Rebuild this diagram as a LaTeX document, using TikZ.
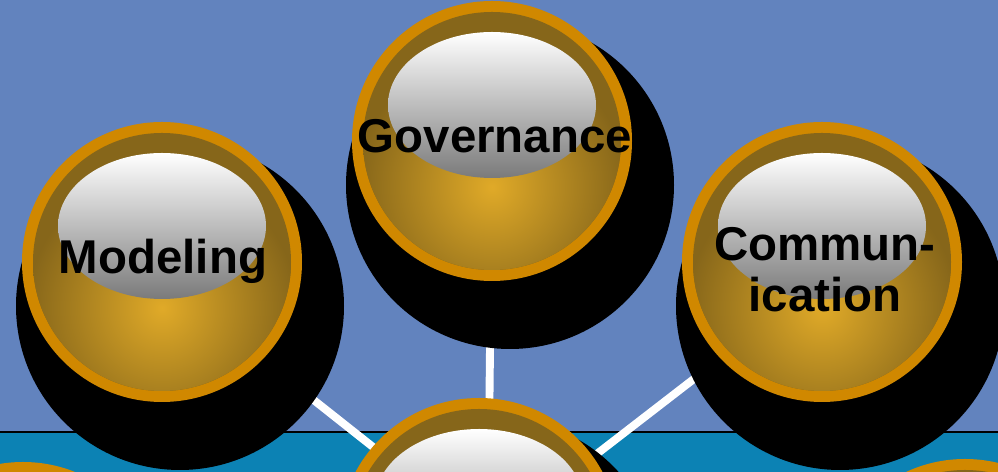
\documentclass[tikz,border=0pt]{standalone}
\usepackage{fontspec}
\setmainfont{Liberation Sans}
\usetikzlibrary{calc}

\definecolor{bgblue}{RGB}{98,131,190}
\definecolor{stripblue}{RGB}{12,130,180}
\definecolor{ringgold}{RGB}{208,136,0}
\definecolor{darkgold}{RGB}{134,102,26}
\definecolor{lightgold}{RGB}{224,170,40}

\tikzset{
  lbl/.style={anchor=base, inner sep=0pt, align=center, text=black,
              font=\fontsize{27}{29.5}\selectfont\bfseries},
  spoke/.style={white, line width=4.5pt},
}

\begin{document}
\begin{tikzpicture}[x=0.02cm, y=0.02cm]
                \useasboundingbox (0,0) rectangle (998,472);
                \clip (0,0) rectangle (998,472);

                % background and lower strip
                \fill [bgblue] (0,0) rectangle (998,472);
                \fill [stripblue] (0,0) rectangle (998,40);
                \draw [line width=1.2pt] (0,40) -- (998,40);

                \coordinate (gov) at (492,331);
                \coordinate (mod) at (162,210);
                \coordinate (com) at (822,210);
                \coordinate (hub) at (479,-66);
                \coordinate (hubc) at (488,-66);
                \coordinate (bl) at (23,-130);
                \coordinate (br) at (965,-127);

                % spokes
                \foreach \c in {gov,mod,com}
                    \draw [spoke] (hubc) -- ($(\c)+(0,-18)$);

                % shadows
                \foreach \c in {gov,mod,com,hub,bl,br}
                    \fill [black, shift={(\c)}] (18,-44) circle (164);

                % gold bubbles
                \foreach \c in {gov,mod,com,hub,bl,br} {
                    \begin{scope}[shift={(\c)}]
                        \fill [ringgold] (0,0) circle (140);
                        \fill [darkgold] (0,0) circle (129);
                        \begin{scope}
                            \clip (0,0) circle (129);
                            \shade [inner color=lightgold, outer color=darkgold] (0,-46) circle (135);
                        \end{scope}
                        \shade [top color=white, middle color=black!14, bottom color=black!52] (0,36) ellipse (104 and 73);
                    \end{scope}
                }

                \node [lbl] (govtxt) at (495,319) {Governance};
                \node [lbl] (modtxt) at (163,198) {Modeling};
                \node [lbl] (comtxt) at (825,160) {Commun-\\ication};
            \end{tikzpicture}
\end{document}
